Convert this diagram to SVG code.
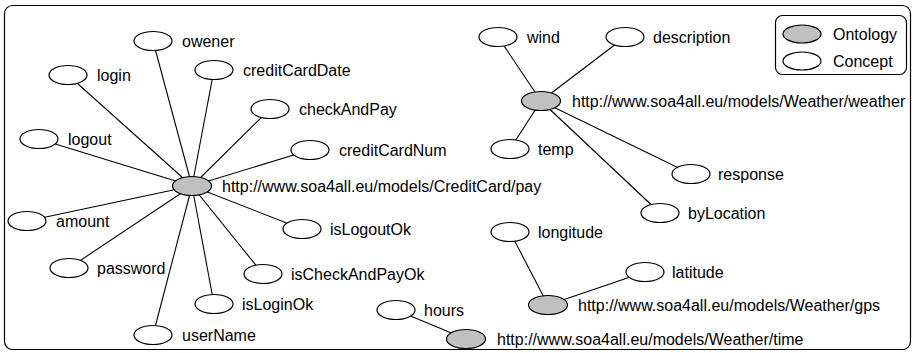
<svg xmlns="http://www.w3.org/2000/svg" width="915" height="353" viewBox="0 0 915 353">
<style>
text{font-family:"Liberation Sans",Arial,Helvetica,sans-serif;font-size:16px;fill:#000}
.c{fill:#fff;stroke:#000;stroke-width:1.2}
.o{fill:#c0c0c0;stroke:#000;stroke-width:1.2}
.e line{stroke:#000;stroke-width:1.1}
.frame{fill:#fff;stroke:#000;stroke-width:1.2}
</style>
<rect class="frame" x="4.5" y="5.5" width="906" height="344" rx="8"/>
<g id="legend">
<rect x="775.5" y="15.5" width="131" height="59" rx="7" fill="#fff" stroke="#000" stroke-width="1.2"/>
<ellipse class="o" cx="802" cy="34" rx="19" ry="9"/>
<text x="833" y="40">Ontology</text>
<ellipse class="c" cx="802" cy="61" rx="19" ry="9"/>
<text x="833" y="67">Concept</text>
</g>
<g id="connectors" class="e">
<line x1="192" y1="186" x2="153" y2="41"/>
<line x1="192" y1="186" x2="68" y2="75"/>
<line x1="192" y1="186" x2="214" y2="70"/>
<line x1="192" y1="186" x2="270" y2="109"/>
<line x1="192" y1="186" x2="39" y2="139"/>
<line x1="192" y1="186" x2="310" y2="150"/>
<line x1="192" y1="186" x2="27" y2="221"/>
<line x1="192" y1="186" x2="69" y2="268"/>
<line x1="192" y1="186" x2="153" y2="335"/>
<line x1="192" y1="186" x2="214" y2="304"/>
<line x1="192" y1="186" x2="263" y2="274"/>
<line x1="192" y1="186" x2="302" y2="229"/>
<line x1="541" y1="101" x2="498" y2="37"/>
<line x1="541" y1="101" x2="625" y2="37"/>
<line x1="541" y1="101" x2="510" y2="149"/>
<line x1="541" y1="101" x2="691" y2="174"/>
<line x1="541" y1="101" x2="660" y2="213"/>
<line x1="548" y1="305" x2="510" y2="232"/>
<line x1="548" y1="305" x2="645" y2="272"/>
<line x1="466" y1="339" x2="396" y2="310"/>
</g>
<g id="pay"><ellipse class="o" cx="192" cy="186" rx="19.5" ry="9.5"/><text x="222" y="192">http://www.soa4all.eu/models/CreditCard/pay</text></g>
<g id="owener"><ellipse class="c" cx="153" cy="41" rx="19" ry="9.5"/><text x="182" y="47">owener</text></g>
<g id="login"><ellipse class="c" cx="68" cy="75" rx="19" ry="9.5"/><text x="97" y="81">login</text></g>
<g id="creditCardDate"><ellipse class="c" cx="214" cy="70" rx="19" ry="9.5"/><text x="243" y="76">creditCardDate</text></g>
<g id="checkAndPay"><ellipse class="c" cx="270" cy="109" rx="19" ry="9.5"/><text x="299" y="115">checkAndPay</text></g>
<g id="logout"><ellipse class="c" cx="39" cy="139" rx="19" ry="9.5"/><text x="68" y="145">logout</text></g>
<g id="creditCardNum"><ellipse class="c" cx="310" cy="150" rx="19" ry="9.5"/><text x="339" y="156">creditCardNum</text></g>
<g id="amount"><ellipse class="c" cx="27" cy="221" rx="19" ry="9.5"/><text x="56" y="227">amount</text></g>
<g id="password"><ellipse class="c" cx="69" cy="268" rx="19" ry="9.5"/><text x="97" y="274">password</text></g>
<g id="userName"><ellipse class="c" cx="153" cy="335" rx="19" ry="9.5"/><text x="182" y="341">userName</text></g>
<g id="isLoginOk"><ellipse class="c" cx="214" cy="304" rx="19" ry="9.5"/><text x="242" y="310">isLoginOk</text></g>
<g id="isCheckAndPayOk"><ellipse class="c" cx="263" cy="274" rx="19" ry="9.5"/><text x="291" y="280">isCheckAndPayOk</text></g>
<g id="isLogoutOk"><ellipse class="c" cx="302" cy="229" rx="19" ry="9.5"/><text x="330" y="235">isLogoutOk</text></g>
<g id="weather"><ellipse class="o" cx="541" cy="101" rx="19.5" ry="9.5"/><text x="572" y="107">http://www.soa4all.eu/models/Weather/weather</text></g>
<g id="wind"><ellipse class="c" cx="498" cy="37" rx="19" ry="9.5"/><text x="527" y="43">wind</text></g>
<g id="description"><ellipse class="c" cx="625" cy="37" rx="19" ry="9.5"/><text x="653" y="43">description</text></g>
<g id="temp"><ellipse class="c" cx="510" cy="149" rx="19" ry="9.5"/><text x="538" y="155">temp</text></g>
<g id="response"><ellipse class="c" cx="691" cy="174" rx="19" ry="9.5"/><text x="718" y="180">response</text></g>
<g id="byLocation"><ellipse class="c" cx="660" cy="213" rx="19" ry="9.5"/><text x="688" y="219">byLocation</text></g>
<g id="gps"><ellipse class="o" cx="548" cy="305" rx="19.5" ry="9.5"/><text x="578" y="311">http://www.soa4all.eu/models/Weather/gps</text></g>
<g id="longitude"><ellipse class="c" cx="510" cy="232" rx="19" ry="9.5"/><text x="538" y="238">longitude</text></g>
<g id="latitude"><ellipse class="c" cx="645" cy="272" rx="19" ry="9.5"/><text x="672" y="278">latitude</text></g>
<g id="time"><ellipse class="o" cx="466" cy="339" rx="19.5" ry="9.5"/><text x="497" y="345">http://www.soa4all.eu/models/Weather/time</text></g>
<g id="hours"><ellipse class="c" cx="396" cy="310" rx="19" ry="9.5"/><text x="424" y="316">hours</text></g>
</svg>
